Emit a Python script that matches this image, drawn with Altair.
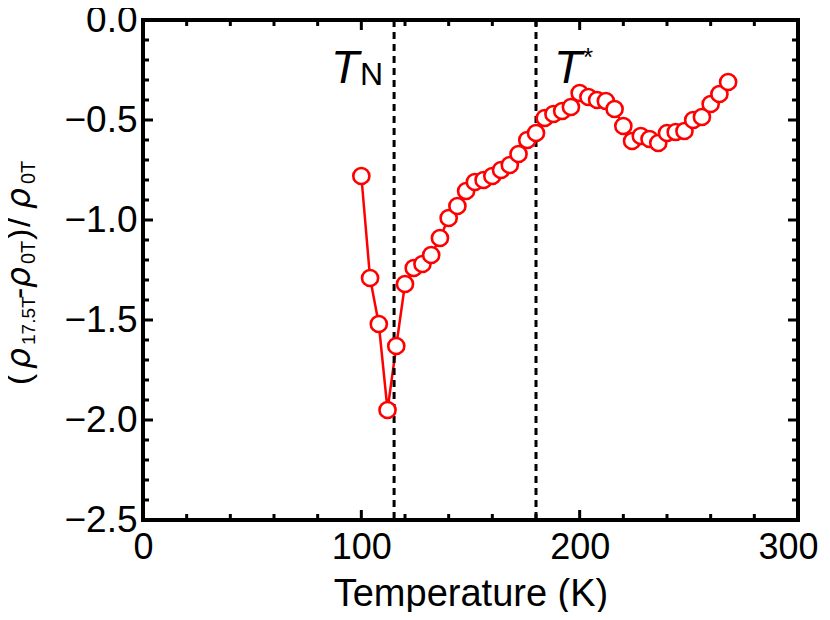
import altair as alt
import pandas as pd

# ---- data ----
temperature = [100, 104, 108, 112, 116, 120, 124, 128, 132, 136, 140, 144, 148, 152,
               156, 160, 164, 168, 172, 176, 180, 184, 188, 192, 196, 200, 204, 208,
               212, 216, 220, 224, 228, 232, 236, 240, 244, 248, 252, 256, 260, 264, 268]
ratio = [-0.78, -1.29, -1.52, -1.95, -1.63, -1.32, -1.24, -1.22, -1.175, -1.09, -0.99,
         -0.93, -0.855, -0.81, -0.80, -0.78, -0.75, -0.725, -0.67, -0.60, -0.565, -0.49,
         -0.47, -0.455, -0.435, -0.365, -0.385, -0.40, -0.405, -0.445, -0.53, -0.605,
         -0.58, -0.595, -0.615, -0.565, -0.56, -0.555, -0.50, -0.485, -0.42, -0.37, -0.31]
marker_lines = [115, 180]          # T_N and T*
x_major = [0, 100, 200, 300]
x_minor = [20, 40, 60, 80, 120, 140, 160, 180, 220, 240, 260, 280]
y_major = [0.0, -0.5, -1.0, -1.5, -2.0, -2.5]
y_minor = [-0.1, -0.2, -0.3, -0.4, -0.6, -0.7, -0.8, -0.9, -1.1, -1.2, -1.3, -1.4,
           -1.6, -1.7, -1.8, -1.9, -2.1, -2.2, -2.3, -2.4]

W, H = 655, 500
FONT = "Liberation Sans"
GREEK = "DejaVu Sans"
RED = "#ff0000"

df = pd.DataFrame({"T": temperature, "r": ratio})
xs = alt.Scale(domain=[0, 300], nice=False, zero=False)
ys = alt.Scale(domain=[-2.5, 0], nice=False, zero=False)

x_axis = alt.Axis(values=x_major, format="d", ticks=False, domain=False, grid=False,
                  labelFlush=False, labelFont=FONT, labelFontSize=36, labelColor="black",
                  labelOffset=alt.condition("datum.value == 300", alt.value(-10), alt.value(0)),
                  labelPadding=10, titleFont=FONT, titleFontSize=38,
                  titleFontWeight="normal", titleColor="black", titlePadding=10)
y_axis = alt.Axis(values=y_major, format=".1f", ticks=False, domain=False, grid=False,
                  labelFlush=False, labelFont=FONT, labelFontSize=37, labelColor="black",
                  labelPadding=6)


def X():
    return alt.X("T:Q", scale=xs, title="Temperature (K)", axis=x_axis)


def Y():
    return alt.Y("r:Q", scale=ys, title=None, axis=y_axis)


base = alt.Chart(df)
line = base.mark_line(color=RED, strokeWidth=2.5).encode(x=X(), y=Y())
points = base.mark_point(shape="circle", filled=True, fill="white", stroke=RED,
                         strokeWidth=2.6, size=260, opacity=1).encode(x=X(), y=Y())

vlines = alt.Chart(pd.DataFrame({"T": marker_lines})).mark_rule(
    color="black", strokeWidth=3, strokeDash=[7, 5]).encode(x=X())


def xticks(vals, length):
    d = alt.Chart(pd.DataFrame({"T": vals}))
    bottom = d.mark_rule(color="black", strokeWidth=3).encode(
        x=X(), y=alt.value(H), y2=alt.value(H - length))
    top = d.mark_rule(color="black", strokeWidth=3).encode(
        x=X(), y=alt.value(0), y2=alt.value(length))
    return [bottom, top]


def yticks(vals, length):
    d = alt.Chart(pd.DataFrame({"r": vals}))
    left = d.mark_rule(color="black", strokeWidth=3).encode(
        y=Y(), x=alt.value(0), x2=alt.value(length))
    right = d.mark_rule(color="black", strokeWidth=3).encode(
        y=Y(), x=alt.value(W), x2=alt.value(W - length))
    return [left, right]


def txt(s, x, y, size, italic=False, angle=0, font=FONT):
    return alt.Chart(pd.DataFrame({"t": [s]})).mark_text(
        font=font, fontSize=size, fontStyle="italic" if italic else "normal",
        color="black", align="left", baseline="alphabetic", angle=angle).encode(
        text="t:N", x=alt.value(x), y=alt.value(y))


annotations = [
    txt("T", 188, 63, 46, italic=True),
    txt("N", 217, 65, 32),
    txt("T", 411, 63, 46, italic=True),
    txt("*", 440, 46, 26),
]

# rotated y-axis title (ρ17.5T-ρ0T)/ρ0T with subscripts
MB, SB = -113, -108
ytitle = [
    txt("(", MB, 365, 34, angle=270),
    txt("ρ", MB, 349, 33, italic=True, angle=270, font=GREEK),
    txt("17.5T", SB, 325, 19, angle=270),
    txt("-", MB, 279, 34, angle=270),
    txt("ρ", MB, 268, 33, italic=True, angle=270, font=GREEK),
    txt("0T", SB, 244, 20, angle=270),
    txt(")", MB, 220, 34, angle=270),
    txt("/", MB, 207, 34, angle=270),
    txt("ρ", MB, 189, 33, italic=True, angle=270, font=GREEK),
    txt("0T", SB, 164, 20, angle=270),
]

layers = ([line, vlines] + xticks(x_major, 10) + xticks(x_minor, 6)
          + yticks(y_major, 10) + yticks(y_minor, 6) + [points] + annotations + ytitle)

chart = alt.layer(*layers).properties(
    width=W, height=H,
    autosize=alt.AutoSizeParams(type="none"),
    padding={"left": 135, "top": 12, "right": 24, "bottom": 92},
    background="white",
).configure_view(stroke="black", strokeWidth=4)

chart.save("out.html", embed_options={"renderer": "svg", "actions": False})
